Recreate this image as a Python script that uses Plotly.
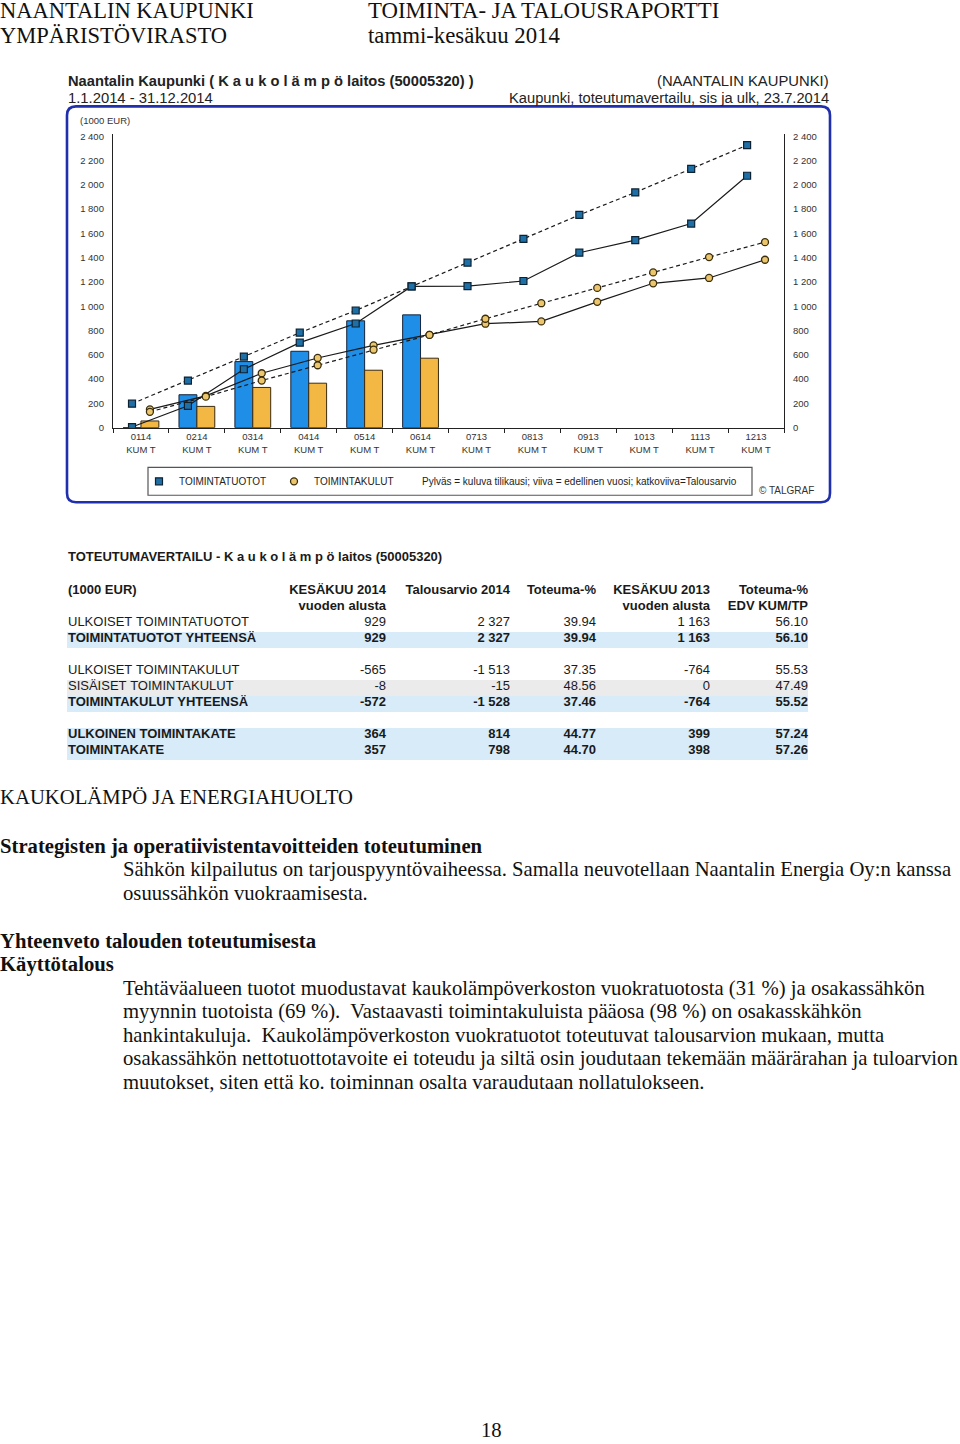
import numpy as np
import plotly.graph_objects as go

W, H = 960, 1444

# ---------------- chart data ----------------
months = ["0114", "0214", "0314", "0414", "0514", "0614",
          "0713", "0813", "0913", "1013", "1113", "1213"]
month_sub = "KUM T"
tuotot_2014 = [0, 271, 544, 629, 880, 929]          # bars, blue
kulut_2014 = [55, 175, 331, 366, 473, 572]           # bars, orange
tuotot_2013 = [5, 180, 481, 700, 858, 1163, 1165, 1208, 1441, 1545, 1681, 2075]
tuotot_budget = [197, 388, 585, 782, 965, 1163, 1359, 1555, 1752, 1938, 2132, 2327]
kulut_2013 = [150, 262, 448, 574, 678, 764, 856, 875, 1036, 1189, 1233, 1383]
kulut_budget = [130, 255, 388, 514, 642, 764, 897, 1025, 1151, 1279, 1405, 1528]
y_tickvals = [0, 200, 400, 600, 800, 1000, 1200, 1400, 1600, 1800, 2000, 2200, 2400]
y_ticktext = ["0", "200", "400", "600", "800", "1 000", "1 200", "1 400",
              "1 600", "1 800", "2 000", "2 200", "2 400"]

# ---------------- table data ----------------
header_top = ["(1000 EUR)", "KESÄKUU 2014", "Talousarvio 2014", "Toteuma-%", "KESÄKUU 2013", "Toteuma-%"]
header_sub = ["", "vuoden alusta", "", "", "vuoden alusta", "EDV KUM/TP"]
row_labels = ["ULKOISET TOIMINTATUOTOT", "TOIMINTATUOTOT YHTEENSÄ", "",
              "ULKOISET TOIMINTAKULUT", "SISÄISET TOIMINTAKULUT", "TOIMINTAKULUT YHTEENSÄ", "",
              "ULKOINEN TOIMINTAKATE", "TOIMINTAKATE"]
kesakuu_2014 = ["929", "929", "", "-565", "-8", "-572", "", "364", "357"]
talousarvio_2014 = ["2 327", "2 327", "", "-1 513", "-15", "-1 528", "", "814", "798"]
toteuma_pct = ["39.94", "39.94", "", "37.35", "48.56", "37.46", "", "44.77", "44.70"]
kesakuu_2013 = ["1 163", "1 163", "", "-764", "0", "-764", "", "399", "398"]
toteuma_edv = ["56.10", "56.10", "", "55.53", "47.49", "55.52", "", "57.24", "57.26"]
row_style = ["plain", "total", "blank", "plain", "internal", "total", "blank", "total", "total"]


def px(x):
    return x / W


def py(y):
    return 1 - y / H


BLUE_BAR = "#1f8ee6"
ORANGE_BAR = "#f3b843"
BLUE_MK = "#1d6fa6"
ORANGE_MK = "#ecc66c"
LINE_C = "#1a1a1a"
CH_FONT = "Liberation Sans, Arial, sans-serif"
DOC_FONT = "Liberation Serif, Times New Roman, serif"

idx = np.arange(len(months))
blue_x = idx - 0.16
orange_x = idx + 0.16

fig = go.Figure()

fig.add_trace(go.Bar(x=idx[:len(tuotot_2014)], y=tuotot_2014, name="TOIMINTATUOTOT",
                     marker=dict(color=BLUE_BAR, line=dict(color="#15243a", width=1)),
                     showlegend=False))
fig.add_trace(go.Bar(x=idx[:len(kulut_2014)], y=kulut_2014, name="TOIMINTAKULUT",
                     marker=dict(color=ORANGE_BAR, line=dict(color="#3a2a10", width=1)),
                     showlegend=False))

sq = dict(symbol="square", size=7, color=BLUE_MK, line=dict(color="#0c2233", width=1.2))
ci = dict(symbol="circle", size=7, color=ORANGE_MK, line=dict(color="#3c2e0c", width=1.3))

fig.add_trace(go.Scatter(x=blue_x, y=tuotot_2013, mode="lines+markers",
                         line=dict(color=LINE_C, width=1.2), marker=sq, showlegend=False))
fig.add_trace(go.Scatter(x=orange_x, y=kulut_2013, mode="lines+markers",
                         line=dict(color=LINE_C, width=1.2), marker=ci, showlegend=False))
fig.add_trace(go.Scatter(x=blue_x, y=tuotot_budget, mode="lines+markers", yaxis="y2",
                         line=dict(color=LINE_C, width=1.2, dash="4px,3px"), marker=sq,
                         showlegend=False))
fig.add_trace(go.Scatter(x=orange_x, y=kulut_budget, mode="lines+markers", yaxis="y2",
                         line=dict(color=LINE_C, width=1.2, dash="4px,3px"), marker=ci,
                         showlegend=False))
# legend entries (markers only)
fig.add_trace(go.Scatter(x=[None], y=[None], mode="markers", name="TOIMINTATUOTOT",
                         marker=sq, showlegend=True))
fig.add_trace(go.Scatter(x=[None], y=[None], mode="markers", name="TOIMINTAKULUT",
                         marker=ci, showlegend=True))

# ---------------- table ----------------
NB = "\u00a0"
BAND_BLUE = "#d8ebf8"
BAND_GREY = "#ebebeb"
fill_map = {"plain": "white", "blank": "white", "total": BAND_BLUE, "internal": BAND_GREY}
row_fill = [fill_map[s] for s in row_style]
ROW_H = 16
TBL_TOP = 576.5
BAND_SHIFT = 7.5
CLEAR = "rgba(0,0,0,0)"


def nb(s):
    return s.replace(" ", NB)


tbl_cols = [row_labels, kesakuu_2014, talousarvio_2014, toteuma_pct, kesakuu_2013, toteuma_edv]
tbl_bottom = TBL_TOP + ROW_H * (2 + len(row_labels)) + 4
aligns = ["left"] + ["right"] * 5
colw = [220, 114, 124, 86, 114, 98]

# band layer (fills only)
fig.add_trace(go.Table(
    domain=dict(x=[px(67), px(809)], y=[py(tbl_bottom + BAND_SHIFT), py(TBL_TOP + BAND_SHIFT)]),
    header=dict(values=[["", ""]], height=ROW_H, fill=dict(color="white"),
                line=dict(width=0, color="white")),
    cells=dict(values=[[""] * len(row_labels)], height=ROW_H, fill=dict(color=[row_fill]),
               line=dict(width=0, color="white")),
))


def text_layer(weight, keep_rows, header_vals):
    vals = [[nb(v) if keep else "" for v, keep in zip(c, keep_rows)] for c in tbl_cols]
    return go.Table(
        domain=dict(x=[px(60), px(816)], y=[py(tbl_bottom), py(TBL_TOP)]),
        columnwidth=colw,
        header=dict(values=header_vals, align=aligns, height=ROW_H,
                    fill=dict(color=CLEAR), line=dict(width=0, color=CLEAR),
                    font=dict(family=CH_FONT, size=13, color="#1a1a1a", weight=weight)),
        cells=dict(values=vals, align=aligns, height=ROW_H,
                   fill=dict(color=CLEAR), line=dict(width=0, color=CLEAR),
                   font=dict(family=CH_FONT, size=13, color="#1a1a1a", weight=weight)),
    )


# regular-weight rows
fig.add_trace(text_layer("normal", [s in ("plain", "internal") for s in row_style],
                         [["", ""] for _ in header_top]))
# bold rows + header
fig.add_trace(text_layer("bold", [s == "total" for s in row_style],
                         [[nb(a), nb(b)] for a, b in zip(header_top, header_sub)]))

# ---------------- shapes ----------------
def rrect(x0, y0, x1, y1, r):
    pts = [("M", x0 + r, y0), ("L", x1 - r, y0), ("Q", x1, y0, x1, y0 + r), ("L", x1, y1 - r),
           ("Q", x1, y1, x1 - r, y1), ("L", x0 + r, y1), ("Q", x0, y1, x0, y1 - r),
           ("L", x0, y0 + r), ("Q", x0, y0, x0 + r, y0)]
    s = ""
    for p in pts:
        cmd = p[0]
        coords = p[1:]
        parts = []
        for i in range(0, len(coords), 2):
            parts.append("%.5f,%.5f" % (px(coords[i]), py(coords[i + 1])))
        s += cmd + " " + " ".join(parts) + " "
    return s + "Z"


shapes = [
    dict(type="path", xref="paper", yref="paper", path=rrect(67, 104, 830, 502, 9),
         line=dict(color="#1f2fae", width=2.6), layer="below"),
    dict(type="rect", xref="paper", yref="paper", x0=px(148), x1=px(752), y0=py(495), y1=py(467),
         line=dict(color="#555555", width=1.2), layer="below"),
]

# ---------------- annotations ----------------
ann = []


def txt(x, y, s, size, family, color="#111111", xanchor="left", bold=False, yanchor="middle"):
    if xanchor == "left":
        x = x - 2
    elif xanchor == "right":
        x = x + 2
    ann.append(dict(x=px(x), y=py(y), xref="paper", yref="paper", text=("<b>%s</b>" % s) if bold else s,
                    showarrow=False, xanchor=xanchor, yanchor=yanchor,
                    font=dict(size=size, family=family, color=color)))


# page header
txt(0, 7.5, "NAANTALIN KAUPUNKI", 22.5, DOC_FONT)
txt(0, 32.5, "YMPÄRISTÖVIRASTO", 22.5, DOC_FONT)
txt(368, 7.5, "TOIMINTA- JA TALOUSRAPORTTI", 22.8, DOC_FONT)
txt(368, 32.5, "tammi-kesäkuu 2014", 22.8, DOC_FONT)

# chart header
txt(68, 78, "Naantalin Kaupunki ( K a u k o l ä m p ö laitos (50005320) )", 14.7, CH_FONT, "#222", bold=True)
txt(68, 95.5, "1.1.2014 - 31.12.2014", 14.8, CH_FONT, "#222")
txt(829, 78, "(NAANTALIN KAUPUNKI)", 14.8, CH_FONT, "#222", xanchor="right")
txt(829, 95.5, "Kaupunki, toteutumavertailu, sis ja ulk, 23.7.2014", 14.7, CH_FONT, "#222", xanchor="right")
txt(80, 118, "(1000 EUR)", 9.5, CH_FONT, "#333")
txt(422, 481, "Pylväs = kuluva tilikausi; viiva = edellinen vuosi; katkoviiva=Talousarvio", 10, CH_FONT, "#222")
txt(759, 490, "© TALGRAF", 10, CH_FONT, "#333")

# table title
txt(68, 557, "TOTEUTUMAVERTAILU - K a u k o l ä m p ö laitos (50005320)", 13, CH_FONT, "#1a1a1a", bold=True)

# body text
S = 20.7
txt(0, 798, "KAUKOLÄMPÖ JA ENERGIAHUOLTO", S, DOC_FONT)
txt(0, 848, "Strategisten ja operatiivistentavoitteiden toteutuminen", S, DOC_FONT, bold=True)
txt(123, 871, "Sähkön kilpailutus on tarjouspyyntövaiheessa. Samalla neuvotellaan Naantalin Energia Oy:n kanssa", S, DOC_FONT)
txt(123, 895, "osuussähkön vuokraamisesta.", S, DOC_FONT)
txt(0, 943, "Yhteenveto talouden toteutumisesta", S, DOC_FONT, bold=True)
txt(0, 967, "Käyttötalous", S, DOC_FONT, bold=True)
body = [
    "Tehtäväalueen tuotot muodustavat kaukolämpöverkoston vuokratuotosta (31 %) ja osakassähkön",
    "myynnin tuotoista (69 %).\u00a0 Vastaavasti toimintakuluista pääosa (98 %) on osakasskähkön",
    "hankintakuluja.\u00a0 Kaukolämpöverkoston vuokratuotot toteutuvat talousarvion mukaan, mutta",
    "osakassähkön nettotuottotavoite ei toteudu ja siltä osin joudutaan tekemään määrärahan ja tuloarvion",
    "muutokset, siten että ko. toiminnan osalta varaudutaan nollatulokseen.",
]
for i, line in enumerate(body):
    txt(123, 990.5 + i * 23.75, line, S, DOC_FONT)
txt(492, 1435, "18", S, DOC_FONT, xanchor="center")

axis_font = dict(family=CH_FONT, size=9.5, color="#333333")
yr = [0, 2420]

fig.update_layout(
    width=W, height=H, margin=dict(l=0, r=0, t=0, b=0),
    paper_bgcolor="white", plot_bgcolor="white",
    barmode="group", bargap=0.36, bargroupgap=0,
    showlegend=True,
    legend=dict(orientation="h", x=px(139), y=py(481), xanchor="left", yanchor="middle",
                font=dict(family=CH_FONT, size=10, color="#222"), bgcolor="rgba(0,0,0,0)",
                entrywidth=90, entrywidthmode="pixels", itemclick=False),
    xaxis=dict(domain=[px(113), px(784)], range=[-0.5, len(months) - 0.5],
               tickvals=idx, ticktext=["%s<br>%s" % (m, month_sub) for m in months],
               ticks="", showgrid=False, zeroline=False, tickfont=axis_font,
               showline=True, linecolor="#222", linewidth=1.3,
               minor=dict(tickvals=np.arange(len(months) + 1) - 0.5, ticks="outside",
                          ticklen=4, tickcolor="#222", tickwidth=1.3),
               fixedrange=True),
    xaxis2=dict(overlaying="x", matches="x", anchor="y", side="bottom",
                tickvals=np.arange(len(months) + 1) - 0.5, ticks="inside", ticklen=4,
                tickcolor="#222", tickwidth=1.3, showticklabels=False, showgrid=False,
                zeroline=False, showline=False),
    yaxis=dict(domain=[py(427), py(131.6)], range=yr, tickvals=y_tickvals, ticktext=y_ticktext,
               showgrid=False, zeroline=False, showline=True, linecolor="#222", linewidth=1.3,
               ticks="", tickfont=axis_font, ticklabelstandoff=6),
    yaxis2=dict(overlaying="y", side="right", anchor="x", range=yr, tickvals=y_tickvals,
                ticktext=y_ticktext, showgrid=False, zeroline=False, showline=True,
                linecolor="#222", linewidth=1.3, ticks="", tickfont=axis_font,
                ticklabelstandoff=6),
    shapes=shapes, annotations=ann,
)

fig.write_html("out.html")
